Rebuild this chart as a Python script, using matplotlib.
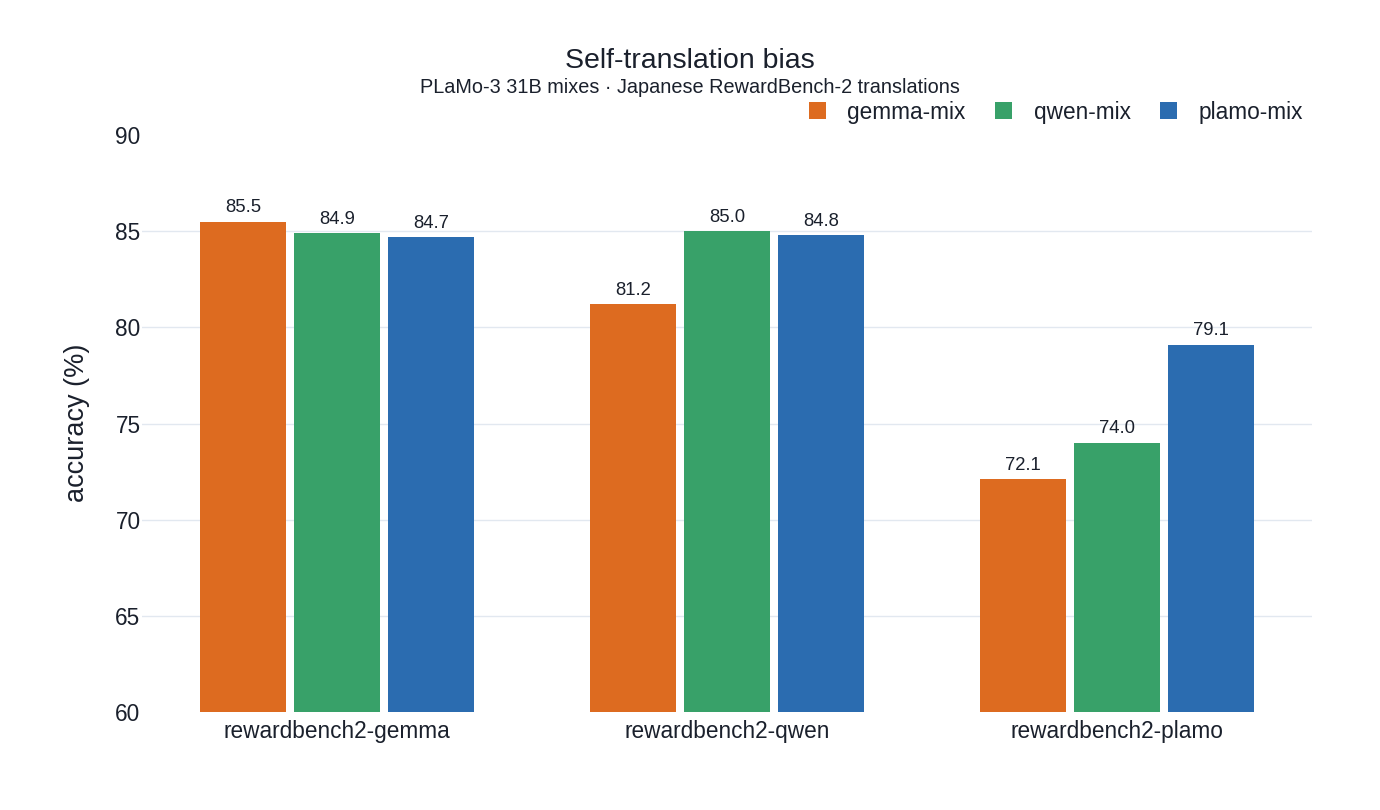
import numpy as np
import matplotlib.pyplot as plt

categories = ["rewardbench2-gemma", "rewardbench2-qwen", "rewardbench2-plamo"]
series_names = ["gemma-mix", "qwen-mix", "plamo-mix"]
gemma_mix = [85.5, 81.2, 72.1]
qwen_mix = [84.9, 85.0, 74.0]
plamo_mix = [84.7, 84.8, 79.1]
colors = ["#DD6B20", "#38A169", "#2B6CB0"]
y_ticks = [60, 65, 70, 75, 80, 85, 90]

text_color = "#1a202c"
plt.rcParams["font.family"] = ["Liberation Sans", "DejaVu Sans"]


def draw():
    fig = plt.figure(figsize=(13.8, 8.1), dpi=100)
    ax = fig.add_axes([0.1029, 0.121, 0.8478, 0.7123])
    x = np.arange(len(categories))
    width = 0.22
    step = 0.241
    for i, (name, vals) in enumerate(zip(series_names, [gemma_mix, qwen_mix, plamo_mix])):
        pos = x + (i - 1) * step
        ax.bar(pos, np.array(vals) - 60, width, bottom=60, color=colors[i], label=name, zorder=3)
        for p, v in zip(pos, vals):
            ax.text(p, v + 0.28, f"{v:.1f}", ha="center", va="bottom", fontsize=13.3, color=text_color)

    for t in y_ticks[1:-1]:
        ax.axhline(t, color="#e2e8f0", lw=1, zorder=1)

    ax.set_xlim(-0.5, 2.5)
    ax.set_ylim(60, 90)
    ax.set_yticks(y_ticks)
    ax.set_xticks(x)
    ax.set_xticklabels(categories)
    ax.tick_params(axis="both", length=0, labelsize=16.3, colors=text_color)
    ax.tick_params(axis="y", pad=1)
    ax.tick_params(axis="x", pad=6)
    for s in ax.spines.values():
        s.set_visible(False)
    fig.text(77 / 1380, 1 - 423 / 810, "accuracy (%)", rotation=90, ha="center", va="center",
             fontsize=19.5, color=text_color)

    fig.text(0.5, 0.9245, "Self-translation bias", ha="center", va="center", fontsize=20.5, color=text_color)
    fig.text(0.5, 0.8915, "PLaMo-3 31B mixes \u00b7 Japanese RewardBench-2 translations",
             ha="center", va="center", fontsize=14.3, color=text_color)

    leg = ax.legend(loc="center right", bbox_to_anchor=(1303 / 1380, 1 - 112 / 810),
                    bbox_transform=fig.transFigure, ncol=3, frameon=False,
                    fontsize=16.3, handlelength=0.75, handleheight=0.75, handletextpad=0.95,
                    columnspacing=1.3, borderaxespad=0, borderpad=0)
    for t in leg.get_texts():
        t.set_color(text_color)

    fig.savefig("out.png", dpi=100, facecolor="white")


def main():
    draw()


if __name__ == "__main__":
    main()
